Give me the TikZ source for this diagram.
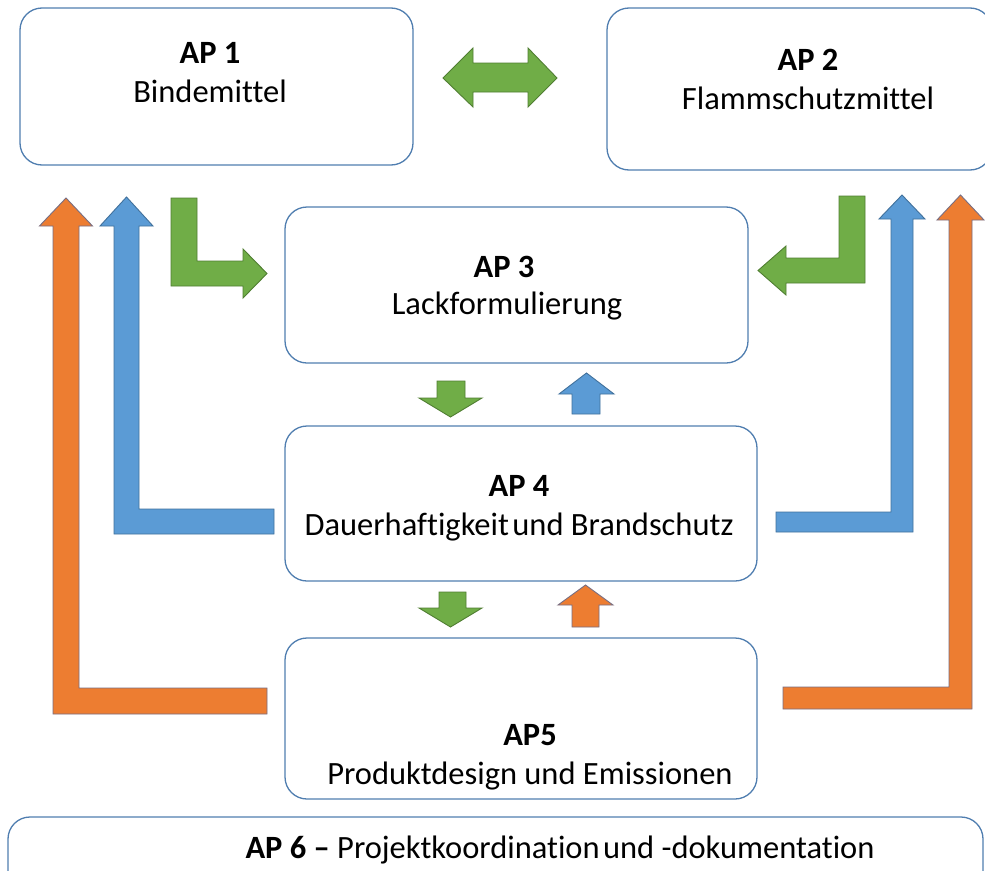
\documentclass[tikz,border=0pt]{standalone}
\usepackage{fontspec}
\setmainfont[Ligatures=NoCommon]{Carlito}
\definecolor{boxline}{RGB}{80,126,176}
\definecolor{gfill}{RGB}{112,173,71}
\definecolor{gline}{RGB}{80,126,50}
\definecolor{bfill}{RGB}{91,155,213}
\definecolor{bline}{RGB}{65,113,156}
\definecolor{ofill}{RGB}{237,125,49}
\definecolor{oline}{RGB}{120,110,130}
\tikzset{
  box/.style={draw=boxline, line width=1.3pt, rounded corners=22pt, fill=white, inner sep=0pt, outer sep=0pt},
  lbl/.style={anchor=base, inner sep=0pt, font=\fontsize{32.5}{39}\selectfont},
  garrow/.style={fill=gfill, draw=gline, line width=0.9pt, line join=miter},
  barrow/.style={fill=bfill, draw=bline, line width=0.9pt, line join=miter},
  oarrow/.style={fill=ofill, draw=oline, line width=0.9pt, line join=miter}
}
\begin{document}
\begin{tikzpicture}[x=1pt,y=-1pt]
\useasboundingbox (0,0) rectangle (985,870);
\clip (0,0) rectangle (985,870);
\fill[white] (0,0) rectangle (985,870);

% boxes
\node[box, minimum width=393pt, minimum height=157pt] (ap1) at (216.5,86.5) {};
\node[box, minimum width=385pt, minimum height=162pt] (ap2) at (799.5,89) {};
\node[box, minimum width=463pt, minimum height=156pt] (ap3) at (516.5,285) {};
\node[box, minimum width=472pt, minimum height=155pt] (ap4) at (521,503.5) {};
\node[box, minimum width=472pt, minimum height=161pt] (ap5) at (521,718.5) {};
\node[box, minimum width=975pt, minimum height=83pt] (ap6) at (495.5,858.5) {};

% texts
\node[lbl] (t1a) at (210,63) {\textbf{AP 1}};
\node[lbl] (t1b) at (210,102) {Bindemittel};
\node[lbl] (t2a) at (808,70) {\textbf{AP 2}};
\node[lbl] (t2b) at (808,109) {Flammschutzmittel};
\node[lbl] (t3a) at (504,277) {\textbf{AP 3}};
\node[lbl] (t3b) at (507,314) {Lackformulierung};
\node[lbl] (t4a) at (519,496) {\textbf{AP 4}};
\node[lbl] (t4b) at (519,535) {Dauerhaftigkeit\hspace{-0.12em} und Brandschutz};
\node[lbl] (t5a) at (530,745) {\textbf{AP5}};
\node[lbl] (t5b) at (530,784) {Produktdesign und Emissionen};
\node[lbl] (t6) at (560,858) {\textbf{AP 6 –} Projektkoordination\hspace{-0.12em} und -dokumentation};

% double arrow AP1 <-> AP2
\draw[garrow] (443,78) -- (473,48) -- (473,63) -- (528,63) -- (528,48) -- (557,78) -- (528,107) -- (528,92) -- (473,92) -- (473,107) -- cycle;

% green L arrows into AP3
\draw[garrow] (171,198) -- (197,198) -- (197,261) -- (243,261) -- (243,249) -- (267,273.5) -- (243,298) -- (243,286) -- (171,286) -- cycle;
\draw[garrow] (865,196) -- (839,196) -- (839,258) -- (786,258) -- (786,246) -- (758,270.5) -- (786,295) -- (786,283) -- (865,283) -- cycle;

% feedback arrows left
\draw[oarrow] (66,198) -- (92.5,226) -- (79,226) -- (79,688) -- (267,688) -- (267,714) -- (53,714) -- (53,226) -- (39.5,226) -- cycle;
\draw[barrow] (126.5,197) -- (153,226) -- (139,226) -- (139,509) -- (274,509) -- (274,534) -- (114,534) -- (114,226) -- (100,226) -- cycle;

% feedback arrows right
\draw[barrow] (902,195) -- (925,219) -- (913,219) -- (913,532) -- (776,532) -- (776,512) -- (891,512) -- (891,219) -- (879,219) -- cycle;
\draw[oarrow] (960.5,195) -- (984,220) -- (972,220) -- (972,709) -- (783,709) -- (783,687) -- (949,687) -- (949,220) -- (937,220) -- cycle;

% small arrows between AP3 and AP4
\draw[garrow] (437,381) -- (465,381) -- (465,398) -- (482,398) -- (450.5,417) -- (419,398) -- (437,398) -- cycle;
\draw[barrow] (586.5,373) -- (614,394) -- (600,394) -- (600,414) -- (572,414) -- (572,394) -- (559,394) -- cycle;

% small arrows between AP4 and AP5
\draw[garrow] (439,592) -- (466,592) -- (466,608) -- (482,608) -- (450.5,627) -- (419,608) -- (439,608) -- cycle;
\draw[oarrow] (585.5,585) -- (613,605) -- (599,605) -- (599,627) -- (572,627) -- (572,605) -- (558,605) -- cycle;
\end{tikzpicture}
\end{document}
